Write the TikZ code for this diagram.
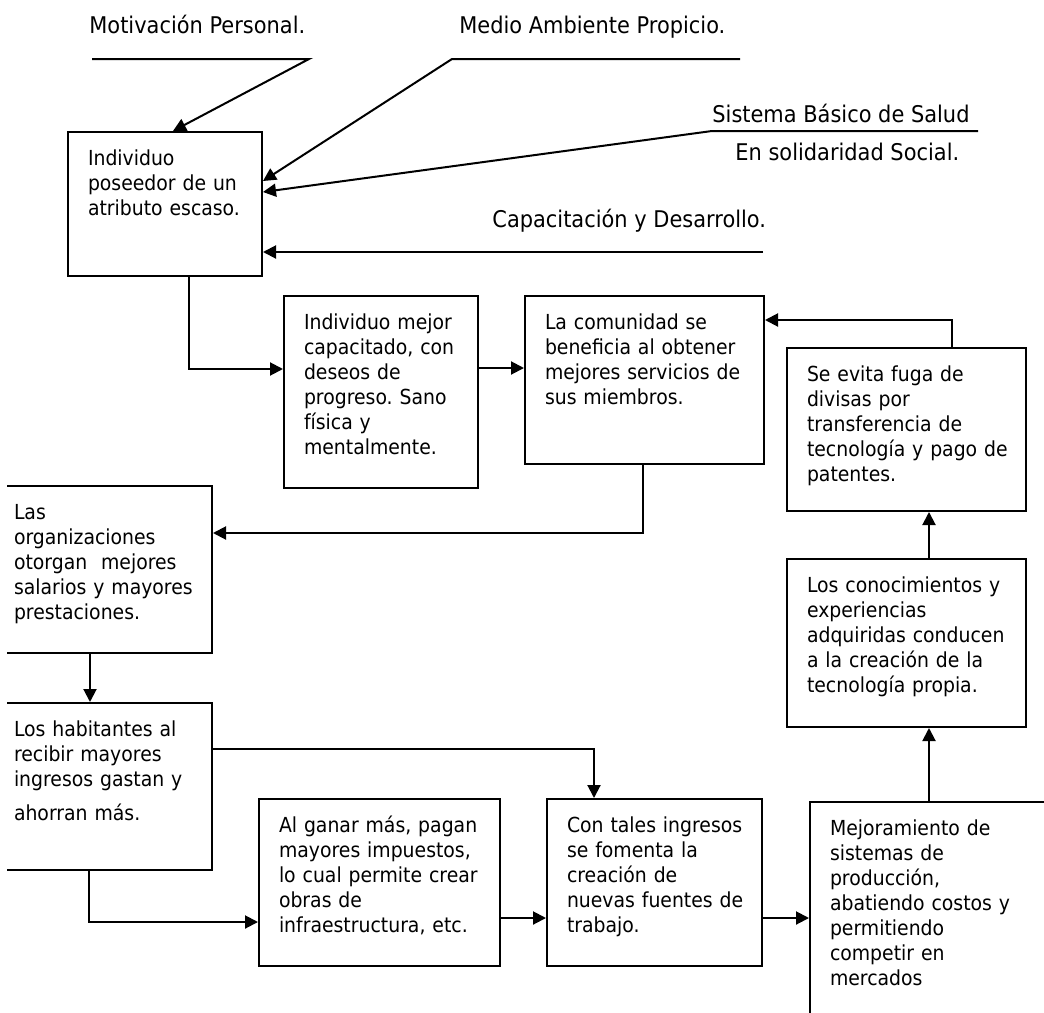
\documentclass[tikz,border=0pt]{standalone}
\usepackage{fontspec}
\setmainfont[FakeStretch=0.91]{DejaVu Sans}
\usetikzlibrary{arrows.meta,calc}
\frenchspacing
\tikzset{
  stage/.style={draw, line width=1pt, anchor=north west, align=left,
    inner xsep=2pt, inner ysep=0pt, text height=16.5pt,
    execute at begin node={\leftskip=8pt},
    font=\fontsize{10.35pt}{12.5pt}\selectfont},
  factor/.style={anchor=base west, inner sep=0pt,
    font=\fontsize{11.5pt}{14pt}\selectfont},
  flow/.style={-{Triangle[length=6.5pt, width=6.5pt]}, line width=1pt},
}

\begin{document}
\begin{tikzpicture}[x=0.5pt, y=-0.5pt]
\useasboundingbox (0,0) rectangle (1044,1012);
\begin{scope}
\clip (7,0) rectangle (1044,1012);

% factors feeding the individual
\node[factor] (mot) at (89,33) {Motivación Personal.};
\node[factor] (med) at (459,33) {Medio Ambiente Propicio.};
\node[factor] (sis) at (712,122) {Sistema Básico de Salud};
\node[factor] (sol) at (735,160) {En solidaridad Social.};
\node[factor] (cap) at (492,227) {Capacitación y Desarrollo.};
\coordinate (mot-l) at (92,59);
\coordinate (mot-r) at (309,59);
\coordinate (med-r) at (740,59);
\coordinate (med-l) at (452,59);
\coordinate (sis-r) at (978,131);
\coordinate (sis-l) at (712,131);
\coordinate (cap-r) at (763,252);

% upper chain
\node[stage, text width=93pt, text depth=55.5pt] (b1) at (67,131)
  {Individuo\\poseedor de un\\atributo escaso.};
\node[stage, text width=93pt, text depth=79.5pt] (b2) at (283,295)
  {Individuo mejor\\capacitado, con\\deseos de\\progreso. Sano\\física y\\mentalmente.};
\node[stage, text width=115.5pt, text depth=67.5pt] (b3) at (524,295)
  {La comunidad se\\beneficia al obtener\\mejores servicios de\\sus miembros.};

% left column
\node[stage, text width=105pt, text depth=67pt] (b4) at (-7,485)
  {Las\\organizaciones\\otorgan\ \ mejores\\salarios y mayores\\prestaciones.};
\node[stage, text width=105pt, text depth=67pt] (b5) at (-7,702)
  {Los habitantes al\\recibir mayores\\ingresos gastan y\\[4.5pt]ahorran más.};

% lower chain
\node[stage, text width=116.5pt, text depth=67pt] (b6) at (258,798)
  {Al ganar más, pagan\\mayores impuestos,\\lo cual permite crear\\obras de\\infraestructura, etc.};
\node[stage, text width=103.5pt, text depth=67pt] (b7) at (546,798)
  {Con tales ingresos\\se fomenta la\\creación de\\nuevas fuentes de\\trabajo.};
\node[stage, text width=121.5pt, text depth=98pt] (b8) at (809,801)
  {Mejoramiento de\\sistemas de\\producción,\\abatiendo costos y\\permitiendo\\competir en\\mercados};

% right column
\node[stage, text width=115.5pt, text depth=67.5pt] (b9) at (786,558)
  {Los conocimientos y\\experiencias\\adquiridas conducen\\a la creación de la\\tecnología propia.};
\node[stage, text width=115.5pt, text depth=65pt] (b10) at (786,347)
  {Se evita fuga de\\divisas por\\transferencia de\\tecnología y pago de\\patentes.};

% inputs
\draw[flow] (mot-l) -- (mot-r) -- ([xshift=53pt]b1.north west);
\draw[flow] (med-r) -- (med-l) -- ([yshift=-25pt]b1.north east);
\draw[flow] (sis-r) -- (sis-l) -- ([yshift=-30.5pt]b1.north east);
\draw[flow] (cap-r) -- ([yshift=-60.5pt]b1.north east);

% cycle
\draw[flow] ([xshift=61pt]b1.south west) |- ([yshift=-37pt]b2.north west);
\draw[flow] ([yshift=-36.5pt]b2.north east) -- ([yshift=-36.5pt]b3.north west);
\draw[flow] ([xshift=59.5pt]b3.south west) |- ([yshift=-24pt]b4.north east);
\draw[flow] ([xshift=48.5pt]b4.south west) -- ([xshift=48.5pt]b5.north west);
\draw[flow] ([yshift=-23.5pt]b5.north east) -| ([xshift=24pt]b7.north west);
\draw[flow] ([xshift=48pt]b5.south west) |- ([yshift=-62pt]b6.north west);
\draw[flow] ([yshift=-60pt]b6.north east) -- ([yshift=-60pt]b7.north west);
\draw[flow] ([yshift=-60pt]b7.north east) -- ([yshift=-58.5pt]b8.north west);
\draw[flow] ([xshift=60pt]b8.north west) -- ([xshift=71.5pt]b9.south west);
\draw[flow] ([xshift=71.5pt]b9.north west) -- ([xshift=71.5pt]b10.south west);
\draw[flow] ([xshift=83pt]b10.north west) |- ([yshift=-12.5pt]b3.north east);
\end{scope}
\end{tikzpicture}
\end{document}
